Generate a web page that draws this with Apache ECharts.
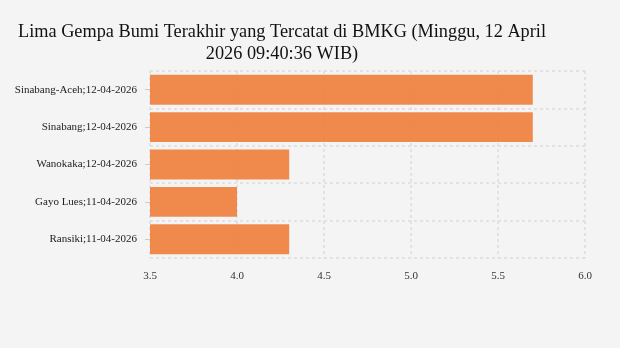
<!DOCTYPE html>
<html><head><meta charset="utf-8">
<script src="https://cdn.jsdelivr.net/npm/echarts@6/dist/echarts.min.js"></script>
<style>html,body{margin:0;padding:0;background:#f4f4f4}#c{width:620px;height:348px}</style>
</head><body><div id="c"></div>
<script>
const titleText = 'Lima Gempa Bumi Terakhir yang Tercatat di BMKG (Minggu, 12 April\n2026 09:40:36 WIB)';
const categories = ['Sinabang-Aceh;12-04-2026','Sinabang;12-04-2026','Wanokaka;12-04-2026','Gayo Lues;11-04-2026','Ransiki;11-04-2026'];
const magnitudes = [5.7, 5.7, 4.3, 4.0, 4.3];
const xTicks = [3.5, 4.0, 4.5, 5.0, 5.5, 6.0];

const chart = echarts.init(document.getElementById('c'), null, {renderer:'canvas'});
const font = '"Liberation Serif", "Times New Roman", serif';
chart.setOption({
  backgroundColor: '#f4f4f4',
  animation: false,
  title: {
    text: titleText, left: 277, top: 16, textAlign: 'center',
    textStyle: {fontFamily: font, fontSize: 18.3, fontWeight: 'normal', color: '#111', lineHeight: 22}
  },
  grid: {left: 150, right: 35, top: 71, bottom: 90},
  xAxis: {
    type: 'value', min: xTicks[0], max: xTicks[xTicks.length-1], interval: 0.5,
    axisLine: {show: false}, axisTick: {show: false},
    axisLabel: {fontFamily: font, fontSize: 11, color: '#333', margin: 13, formatter: v => v.toFixed(1)},
    splitLine: {show: true, lineStyle: {color: '#dcdcdc', type: [3,3], width: 1.5}}
  },
  yAxis: {
    type: 'category', data: categories, inverse: true,
    axisLine: {show: false},
    axisTick: {show: true, alignWithLabel: true, length: 5, lineStyle: {color: '#ccc'}},
    axisLabel: {fontFamily: font, fontSize: 11, color: '#222', margin: 13},
    splitLine: {show: true, lineStyle: {color: '#dcdcdc', type: [3,3], width: 1.5}}
  },
  series: [{
    type: 'bar', data: magnitudes, barWidth: '80%',
    itemStyle: {color: '#f07e3a', opacity: 0.9}
  }]
});
</script></body></html>
